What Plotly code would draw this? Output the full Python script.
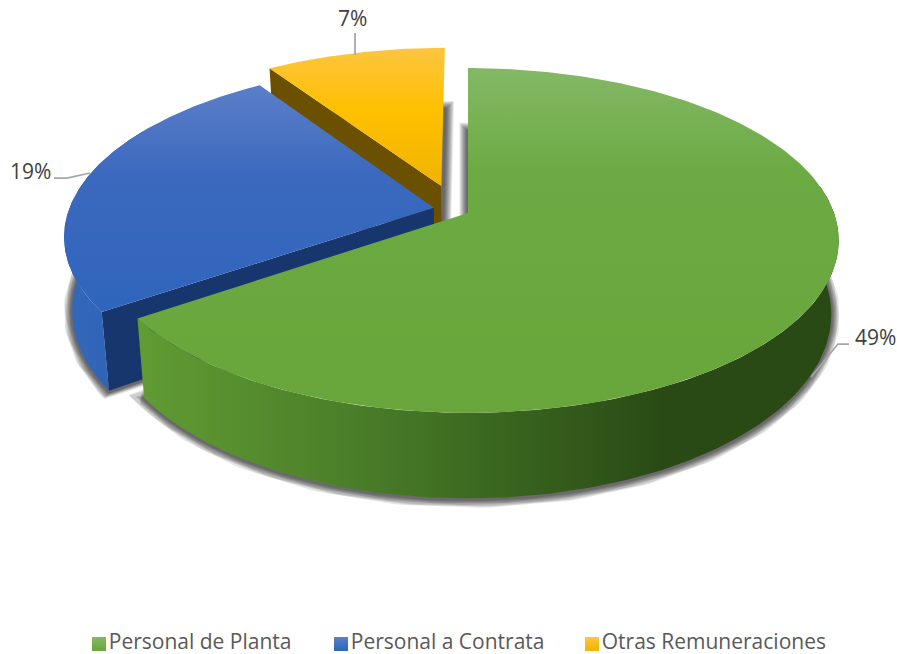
import numpy as np
import plotly.graph_objects as go

categories = ["Personal de Planta", "Personal a Contrata", "Otras Remuneraciones"]
values = [49, 19, 7]
value_labels = ["49%", "19%", "7%"]

# View and style
X0, Y0, A, B, K, DEPTH, SHRINK = 468, 213, 366, 168, 0.159, 72, 0.98
EXPLODE = [(0, 0), (-0.094, 0.032), (-0.075, 0.165)]
TOP = [
    [[0, "#68a63b"], [0.7, "#6cab43"], [1, "#84b866"]],
    [[0, "#2f65bc"], [0.6, "#3b69be"], [1, "#5b7fc9"]],
    [[0, "#f0b400"], [0.55, "#ffc000"], [1, "#fcc540"]],
]
WALL = [
    [[0, "#619c33"], [0.25, "#4f842b"], [0.5, "#3b6820"], [0.75, "#294a15"], [1, "#2a4a15"]],
    [[0, "#3468bb"], [1, "#2c60b4"]],
    [[0, "#7f6000"], [1, "#7f6000"]],
]
CUT = ["#3b6820", "#17366e", "#6b5000"]
LEGEND_TOP = ["#84b866", "#5b7fc9", "#fcc540"]
LEGEND_BOTTOM = ["#68a63b", "#2f65bc", "#f0b400"]
LEGEND_X = [99, 341, 592]
LEGEND_Y = 644
TEXT = "#404040"
FONT = "Open Sans"
LEADER = "#a6a6a6"


def project(x, y, lower=False):
    w = 1 + K * y
    if lower:
        return X0 + SHRINK * A * x / w, Y0 - B * y / w + DEPTH / w
    return X0 + A * x / w, Y0 - B * y / w


fig = go.Figure()
shares = np.array(values) / sum(values) * 360
ends = np.cumsum(shares)
starts = ends - shares
slices = []
for start, end, (ox, oy) in zip(starts, ends, EXPLODE):
    t = np.radians(np.linspace(start, end, 240))
    ax, ay = np.sin(t) + ox, np.cos(t) + oy
    slices.append(dict(ax=ax, ay=ay, ox=ox, oy=oy, t=t))


def poly(xs, ys, **kw):
    fig.add_trace(go.Scatter(x=xs, y=ys, mode="lines", fill="toself", line=dict(width=0),
                             hoverinfo="skip", showlegend=False, **kw))


# soft shadows below the lower rim of each slice
for s in slices:
    lx, ly = project(np.r_[s["ox"], s["ax"], s["ox"]], np.r_[s["oy"], s["ay"], s["oy"]], True)
    for width in [17, 15, 13, 11, 9, 7, 5, 3]:
        fig.add_trace(go.Scatter(x=lx, y=ly + 1, mode="lines", hoverinfo="skip", showlegend=False,
                                 line=dict(color="rgba(0,0,0,0.10)", width=width)))


def draw_slice(i, cut_index):
    s = slices[i]
    tx, ty = project(s["ax"], s["ay"])
    bx, by = project(s["ax"], s["ay"], True)
    keep = np.cos(s["t"]) < 0.5
    if i == 0:
        keep = np.degrees(s["t"]) > 80
    poly(np.r_[tx[keep], bx[keep][::-1]], np.r_[ty[keep], by[keep][::-1]],
         fillgradient=dict(type="horizontal", colorscale=WALL[i]))
    if cut_index is not None:
        ax_, ay_ = s["ax"][cut_index], s["ay"][cut_index]
        px = np.array([s["ox"], ax_])
        py = np.array([s["oy"], ay_])
        ux, uy = project(px, py)
        dx, dy = project(px, py, True)
        poly(np.r_[ux, dx[::-1]], np.r_[uy, dy[::-1]], fillcolor=CUT[i])
    ox, oy = project(np.array([s["ox"]]), np.array([s["oy"]]))
    poly(np.r_[ox, tx, ox], np.r_[oy, ty, oy],
         fillgradient=dict(type="vertical", colorscale=TOP[i]))


draw_slice(2, 0)
draw_slice(1, 0)
draw_slice(0, None)

for name, top, bottom, lx in zip(categories, LEGEND_TOP, LEGEND_BOTTOM, LEGEND_X):
    fig.add_trace(go.Scatter(x=[lx], y=[LEGEND_Y], mode="markers+text", name=name, text=[name],
                             textposition="middle right", hoverinfo="skip", showlegend=False,
                             textfont=dict(family=FONT, size=21, color="#595959"),
                             marker=dict(symbol="square", size=14, color=top, line=dict(width=0),
                                         gradient=dict(type="vertical", color=bottom))))

label_pos = [(875, 337), (30, 171), (352, 18)]
for text, (x, y) in zip(value_labels, label_pos):
    fig.add_annotation(x=x, y=y, text=text, showarrow=False, xref="x", yref="y",
                       font=dict(family=FONT, size=21, color=TEXT))

leaders = ["M849,344 L838,344 L811,377", "M54,178 L67,178 L90,173", "M355,33 L355,55"]
for path in leaders:
    fig.add_shape(type="path", path=path, line=dict(color=LEADER, width=1.75), xref="x", yref="y")

fig.update_xaxes(range=[0, 897], visible=False, fixedrange=True)
fig.update_yaxes(range=[654, 0], visible=False, fixedrange=True)
fig.update_layout(
    width=897, height=654, margin=dict(l=0, r=0, t=0, b=0),
    paper_bgcolor="white", plot_bgcolor="white", showlegend=False,
)
fig.write_html("out.html", post_script="document.body.style.margin='0';",
               config=dict(displayModeBar=False))
